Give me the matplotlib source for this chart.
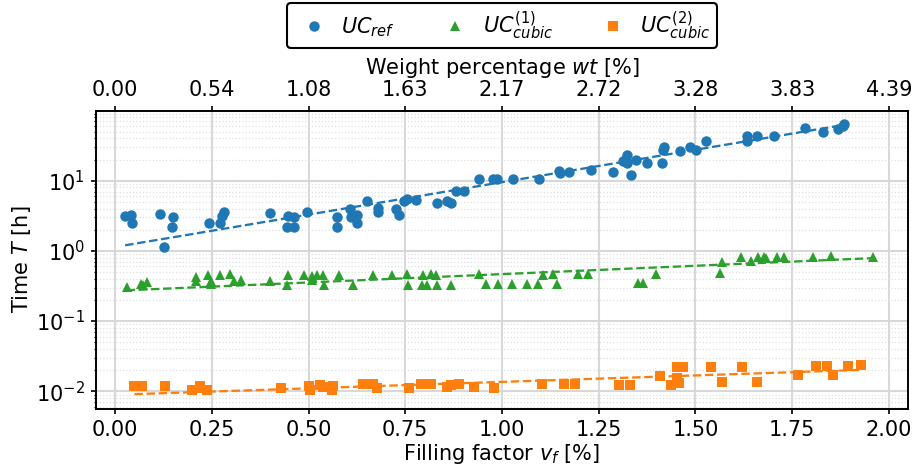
import matplotlib
matplotlib.use("Agg")
import matplotlib.pyplot as plt
import numpy as np

# filling factor v_f [%] and time T [h] for each unit cell
ref_vf = [0.026, 0.041, 0.043, 0.116, 0.151, 0.148, 0.127, 0.243, 0.271, 0.276,
          0.282, 0.401, 0.448, 0.444, 0.463, 0.463, 0.495, 0.573, 0.573, 0.607,
          0.610, 0.625, 0.625, 0.650, 0.680, 0.680, 0.725, 0.734, 0.747, 0.754,
          0.778, 0.831, 0.857, 0.867, 0.880, 0.903, 0.941, 0.978, 0.986, 1.029,
          1.095, 1.147, 1.150, 1.172, 1.230, 1.288, 1.313, 1.322, 1.322, 1.318,
          1.333, 1.346, 1.374, 1.414, 1.417, 1.419, 1.460, 1.486, 1.501, 1.526,
          1.634, 1.634, 1.658, 1.703, 1.783, 1.829, 1.869, 1.880, 1.884]
ref_T = [3.15, 3.2, 2.46, 3.3, 2.99, 2.18, 1.13, 2.48, 2.46, 3.12,
         3.56, 3.41, 3.12, 2.2, 3.05, 2.2, 3.59, 2.99, 2.18, 3.89,
         2.99, 3.2, 2.5, 5.1, 4.02, 3.59, 3.89, 3.22, 5.22, 5.40,
         5.27, 4.89, 5.10, 4.83, 7.09, 7.16, 10.6, 10.5, 10.5, 10.6,
         10.6, 13.8, 12.7, 13.3, 14.0, 13.5, 19.1, 23.1, 17.6, 19.6,
         12.0, 19.6, 17.6, 17.9, 27.2, 30.3, 26.6, 30.3, 27.2, 36.5,
         43.5, 36.5, 43.5, 44.0, 55.4, 48.6, 54.7, 60.4, 64.4]

cub1_vf = [0.030, 0.066, 0.072, 0.083, 0.209, 0.209, 0.241, 0.247, 0.247, 0.271,
           0.297, 0.307, 0.325, 0.401, 0.446, 0.445, 0.489, 0.508, 0.508, 0.523,
           0.538, 0.541, 0.579, 0.616, 0.667, 0.715, 0.755, 0.758, 0.797, 0.794,
           0.807, 0.816, 0.829, 0.833, 0.868, 0.941, 0.959, 0.990, 1.027, 1.064,
           1.092, 1.107, 1.133, 1.141, 1.196, 1.223, 1.352, 1.364, 1.398, 1.563,
           1.569, 1.617, 1.643, 1.662, 1.678, 1.682, 1.710, 1.729, 1.803, 1.850,
           1.959]
cub1_T = [0.307, 0.343, 0.325, 0.355, 0.426, 0.374, 0.451, 0.374, 0.343, 0.451,
          0.461, 0.374, 0.383, 0.374, 0.451, 0.325, 0.451, 0.440, 0.391, 0.451,
          0.451, 0.332, 0.451, 0.332, 0.451, 0.451, 0.466, 0.332, 0.451, 0.332,
          0.332, 0.466, 0.451, 0.332, 0.332, 0.461, 0.343, 0.336, 0.336, 0.336,
          0.343, 0.451, 0.461, 0.336, 0.461, 0.461, 0.350, 0.350, 0.466, 0.492,
          0.697, 0.822, 0.713, 0.822, 0.822, 0.805, 0.822, 0.822, 0.822, 0.841,
          0.822]

cub2_vf = [0.050, 0.069, 0.129, 0.198, 0.220, 0.237, 0.428, 0.501, 0.504, 0.530,
           0.538, 0.564, 0.561, 0.640, 0.667, 0.676, 0.760, 0.791, 0.816, 0.857,
           0.868, 0.889, 0.928, 0.980, 1.103, 1.161, 1.189, 1.302, 1.331, 1.408,
           1.437, 1.451, 1.468, 1.458, 1.451, 1.539, 1.568, 1.619, 1.658, 1.766,
           1.811, 1.839, 1.856, 1.895, 1.929]
cub2_T = [0.0118, 0.0118, 0.0118, 0.0106, 0.0118, 0.0106, 0.0110, 0.0118, 0.0106, 0.0122,
          0.0116, 0.0118, 0.0106, 0.0126, 0.0126, 0.0110, 0.0113, 0.0126, 0.0126, 0.0116,
          0.0122, 0.0129, 0.0116, 0.0113, 0.0129, 0.0129, 0.0129, 0.0122, 0.0122, 0.0166,
          0.0122, 0.0223, 0.0223, 0.0133, 0.0157, 0.0223, 0.0136, 0.0223, 0.0136, 0.0170,
          0.0228, 0.0228, 0.0173, 0.0228, 0.0236]

vf_ticks = [0.00, 0.25, 0.50, 0.75, 1.00, 1.25, 1.50, 1.75, 2.00]
wt_labels = ['0.00', '0.54', '1.08', '1.63', '2.17', '2.72', '3.28', '3.83', '4.39']


def exp_fit(x, y, n_iter=20):
    """T = a*exp(b*x) least squares in linear space (reweighted log fit)."""
    coef = np.polyfit(x, np.log10(y), 1)
    for _ in range(n_iter):
        w = 10 ** np.polyval(coef, x)
        coef = np.polyfit(x, np.log10(y), 1, w=w)
    return coef


plt.rcParams['font.size'] = 10

fig = plt.figure(figsize=(6.1, 467 / 150), dpi=150)
ax = fig.add_axes([95.7 / 915, 1 - 408.7 / 467, 812.6 / 915, 298.0 / 467])

series = [
    (ref_vf, ref_T, 'o', '#1f77b4', r'$UC_{ref}$'),
    (cub1_vf, cub1_T, '^', '#2ca02c', r'$UC_{cubic}^{(1)}$'),
    (cub2_vf, cub2_T, 's', '#ff7f0e', r'$UC_{cubic}^{(2)}$'),
]
handles = []
for vf, T, marker, color, label in series:
    vf = np.asarray(vf)
    T = np.asarray(T)
    h, = ax.plot(vf, T, linestyle='none', marker=marker, color=color,
                 markersize=5, markeredgewidth=0, label=label, zorder=3)
    handles.append(h)
    coef = exp_fit(vf, T)
    xs = np.array([vf.min(), vf.max()])
    ax.plot(xs, 10 ** np.polyval(coef, xs), '--', color=color, lw=1.1, zorder=2)

ax.set_yscale('log')
ax.set_xlim(-0.05, 2.05)
ax.set_ylim(10 ** -2.248, 10 ** 1.997)
ax.set_xticks(vf_ticks)
ax.set_xticklabels([f'{v:.2f}' for v in vf_ticks])
ax.set_xlabel(r'Filling factor $v_f$ [%]', labelpad=1)
ax.set_ylabel(r'Time $T$ [h]', labelpad=1.5)

ax.set_axisbelow(True)
ax.grid(True, which='major', color='#d8d8d8', lw=1.0)
ax.grid(True, which='minor', axis='y', color='#e0e0e0', lw=0.6, linestyle=':')
for s in ax.spines.values():
    s.set_color('black')
    s.set_linewidth(0.8)
ax.tick_params(which='major', direction='out', length=2.2, width=0.8, pad=3)
ax.tick_params(which='minor', direction='out', length=1.2, width=0.6)

ax2 = ax.twiny()
ax2.set_xlim(ax.get_xlim())
ax2.set_xticks(vf_ticks)
ax2.set_xticklabels(wt_labels)
ax2.set_xlabel(r'Weight percentage $wt$ [%]', labelpad=3)
ax2.tick_params(direction='out', length=2.2, width=0.8, pad=3)

fig.legend(handles=handles, loc='upper center', ncol=3,
           bbox_to_anchor=(502 / 915, 1 - 3 / 467), borderaxespad=0,
           edgecolor='black', framealpha=1, numpoints=1, columnspacing=1.9,
           handlelength=2.0, handletextpad=0.3, borderpad=0.3)

fig.savefig('out.png', dpi=150)
